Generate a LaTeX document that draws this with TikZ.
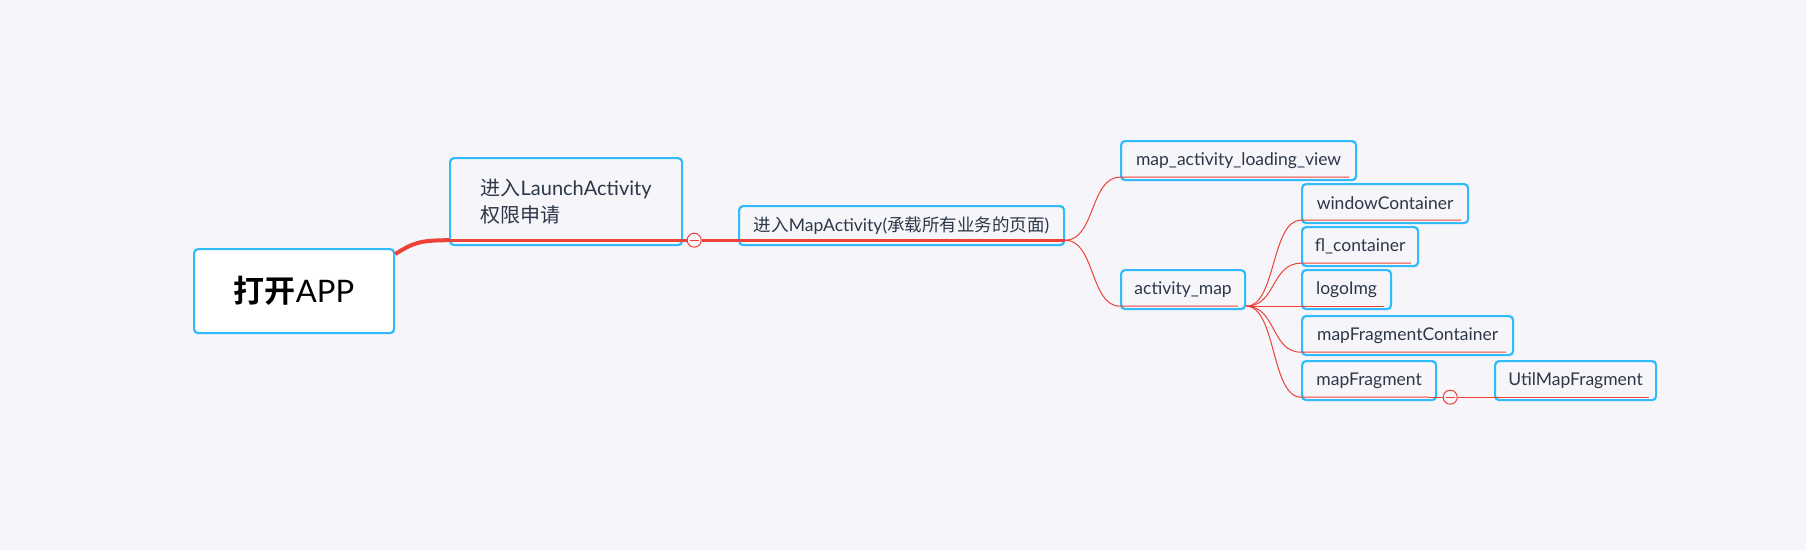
\documentclass[tikz,border=0pt]{standalone}
\usepackage{fontspec}
\setmainfont{Lato}
\newfontfamily\cjk{Noto Sans CJK SC}[BoldFont={Noto Sans CJK SC Bold}]
\usepackage{xcolor}
\usetikzlibrary{positioning, calc}

\definecolor{bgcol}{RGB}{245,245,250}
\definecolor{boxblue}{RGB}{48,188,250}
\definecolor{linered}{RGB}{236,66,56}
\definecolor{txtcol}{RGB}{45,55,72}

\begin{document}
\begin{tikzpicture}[
    x=1pt, y=-1pt,
    topic/.style={rectangle, rounded corners=4pt, draw=boxblue, line width=2.2pt, text=txtcol, anchor=north west, align=left, inner sep=0pt},
    leaf/.style={topic, font=\fontsize{17.5}{20}\selectfont, minimum height=39pt},
    edge/.style={draw=linered, line width=1pt},
    trunk/.style={draw=linered, line width=3pt},
    fold/.style={circle, draw=linered, line width=1pt, fill=bgcol, minimum size=14pt, inner sep=0pt}
]
    \fill[bgcol] (0,0) rectangle (1806,550);

    % main branch
    \node[topic, fill=white, text=black, minimum width=200pt, minimum height=84pt, font=\fontsize{31}{37}\selectfont] (root) at (193,248) {{\cjk\bfseries 打开}APP};
    \node[topic, minimum width=232pt, minimum height=87pt, font=\fontsize{20}{27}\selectfont] (launch) at (449,157) {{\cjk 进入}LaunchActivity\\{\cjk 权限申请}};
    \node[topic, minimum width=325pt, minimum height=39pt, font=\fontsize{17.5}{20}\selectfont] (map) at (738,205) {{\cjk 进入}MapActivity({\cjk 承载所有业务的页面})};

    % children of map
    \node[leaf, minimum width=235pt] (loading) at (1120,140) {map\_activity\_loading\_view};
    \node[leaf, minimum width=124pt] (amap) at (1120,269) {activity\_map};

    % children of activity_map
    \node[leaf, minimum width=166pt] (win) at (1301,183) {windowContainer};
    \node[leaf, minimum width=116pt] (flc) at (1301,226) {fl\_container};
    \node[leaf, minimum width=89pt] (logo) at (1301,269) {logoImg};
    \node[leaf, minimum width=211pt] (mfc) at (1301,315) {mapFragmentContainer};
    \node[leaf, minimum width=134pt] (mfrag) at (1301,360) {mapFragment};
    \node[leaf, minimum width=161pt] (util) at (1494,360) {UtilMapFragment};

    \node[fold] (fold1) at ($(launch.south east)+(11,-6)$) {};
    \node[fold] (fold2) at ($(mfrag.south east)+(13,-4)$) {};

    % connectors
    \draw[trunk, line width=4pt] ([yshift=-6pt]root.north east) .. controls +(18,-11) and +(-30,0) .. ([yshift=6pt]launch.south west);
    \draw[trunk] ([yshift=6pt]launch.south west) -- ([yshift=6pt]launch.south east) -- (fold1);
    \draw[trunk] (fold1) -- ([yshift=6pt]map.south west) -- ([yshift=6pt]map.south east);
    \foreach \kid in {loading, amap}
        \draw[edge] ([yshift=6pt]map.south east) .. controls +(30,0) and +(-30,0) .. ([yshift=4pt]\kid.south west) -- ([xshift=-8pt,yshift=4pt]\kid.south east);
    \foreach \kid in {win, flc, logo, mfc, mfrag}
        \draw[edge] ([yshift=4pt]amap.south east) .. controls +(30,0) and +(-30,0) .. ([yshift=4pt]\kid.south west) -- ([xshift=-8pt,yshift=4pt]\kid.south east);
    \draw[edge] ([xshift=-8pt,yshift=4pt]mfrag.south east) -- (fold2);
    \draw[edge] (fold2) -- ([yshift=4pt]util.south west) -- ([xshift=-8pt,yshift=4pt]util.south east);

    % minus signs in fold markers
    \foreach \f in {fold1, fold2}
        \draw[edge] ([xshift=3pt]\f.west) -- ([xshift=-3pt]\f.east);
\end{tikzpicture}
\end{document}
